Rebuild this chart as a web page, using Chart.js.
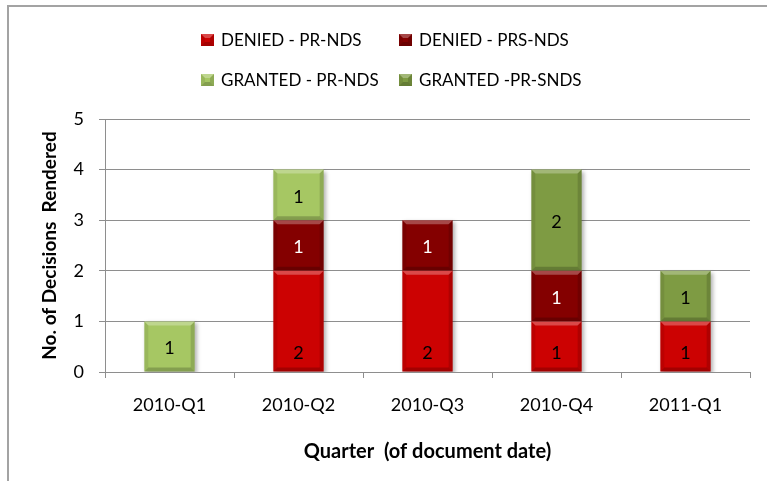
<!DOCTYPE html>
<html>
<head>
<meta charset="utf-8">
<script src="https://cdn.jsdelivr.net/npm/chart.js@4.4.1/dist/chart.umd.min.js"></script>
<style>
  html, body { margin: 0; padding: 0; background: #fff; }
  #wrap { width: 767px; height: 481px; }
</style>
</head>
<body>
<div id="wrap"><canvas id="decisions" width="767" height="481"></canvas></div>
<script>
// data
const quarters = ['2010-Q1', '2010-Q2', '2010-Q3', '2010-Q4', '2011-Q1'];
const deniedPrNds = [0, 2, 2, 1, 1];
const deniedPrsNds = [0, 1, 1, 1, 0];
const grantedPrNds = [1, 1, 0, 0, 0];
const grantedPrSnds = [0, 0, 0, 2, 1];
const seriesNames = ['DENIED - PR-NDS', 'DENIED - PRS-NDS', 'GRANTED - PR-NDS', 'GRANTED -PR-SNDS'];

const colors = ['#cc0202', '#840000', '#a6c763', '#7e9b43'];
const labelColors = ['#000', '#fff', '#000', '#000'];
const FONT = 'Lato';

// legend is 2x2 in the original, chart.js legend can't wrap like that so draw it here
const legendSpots = [[201, 40], [399, 40], [201, 80], [399, 80]];

function bevel(ctx, l, t, r, b) {
  const d = Math.min(4, (b - t) / 3);
  ctx.fillStyle = 'rgba(255,255,255,0.28)';
  ctx.beginPath();
  ctx.moveTo(l, t); ctx.lineTo(r, t); ctx.lineTo(r - d, t + d); ctx.lineTo(l + d, t + d);
  ctx.fill();
  ctx.fillStyle = 'rgba(0,0,0,0.08)';
  ctx.beginPath();
  ctx.moveTo(l, t); ctx.lineTo(l + d, t + d); ctx.lineTo(l + d, b - d); ctx.lineTo(l, b);
  ctx.fill();
  ctx.fillStyle = 'rgba(0,0,0,0.14)';
  ctx.beginPath();
  ctx.moveTo(r, t); ctx.lineTo(r - d, t + d); ctx.lineTo(r - d, b - d); ctx.lineTo(r, b);
  ctx.fill();
  ctx.fillStyle = 'rgba(0,0,0,0.2)';
  ctx.beginPath();
  ctx.moveTo(l, b); ctx.lineTo(l + d, b - d); ctx.lineTo(r - d, b - d); ctx.lineTo(r, b);
  ctx.fill();
}

const decoPlugin = {
  id: 'deco',
  beforeDraw(chart) {
    const ctx = chart.ctx;
    ctx.save();
    ctx.strokeStyle = '#a3a3a3';
    ctx.lineWidth = 2;
    ctx.strokeRect(8, 6, 800, 520);
    ctx.restore();
  },
  beforeDatasetsDraw(chart) {
    const ctx = chart.ctx;
    ctx.save();
    ctx.shadowColor = 'rgba(0,0,0,0.3)';
    ctx.shadowBlur = 4;
    ctx.shadowOffsetX = 2;
    ctx.shadowOffsetY = 2;
  },
  afterDatasetsDraw(chart) {
    const ctx = chart.ctx;
    ctx.restore();
    chart.data.datasets.forEach((ds, i) => {
      const meta = chart.getDatasetMeta(i);
      meta.data.forEach((bar, j) => {
        const v = ds.data[j];
        if (!v) return;
        const p = bar.getProps(['x', 'y', 'base', 'width'], true);
        const l = p.x - p.width / 2, r = p.x + p.width / 2;
        bevel(ctx, l, p.y, r, p.base);
        ctx.save();
        ctx.fillStyle = labelColors[i];
        ctx.font = '18px ' + FONT;
        ctx.textAlign = 'center';
        ctx.textBaseline = 'middle';
        const ty = i === 0 ? p.base - 18 : (p.y + p.base) / 2 + 2;
        ctx.fillText(String(v), p.x, ty);
        ctx.restore();
      });
    });
  },
  afterDraw(chart) {
    const ctx = chart.ctx;
    ctx.save();
    chart.data.datasets.forEach((ds, i) => {
      const [x, y] = legendSpots[i];
      ctx.fillStyle = ds.backgroundColor;
      ctx.fillRect(x, y - 6, 13, 12);
      bevel(ctx, x, y - 6, x + 13, y + 6);
      ctx.fillStyle = '#000';
      ctx.font = '17px ' + FONT;
      ctx.textBaseline = 'middle';
      ctx.textAlign = 'left';
      ctx.fillText(ds.label, x + 20, y + 1);
    });
    ctx.restore();
  }
};

const axisGray = '#8e8e8e';

new Chart(document.getElementById('decisions'), {
  type: 'bar',
  data: {
    labels: quarters,
    datasets: [
      { label: seriesNames[0], data: deniedPrNds, backgroundColor: colors[0] },
      { label: seriesNames[1], data: deniedPrsNds, backgroundColor: colors[1] },
      { label: seriesNames[2], data: grantedPrNds, backgroundColor: colors[2] },
      { label: seriesNames[3], data: grantedPrSnds, backgroundColor: colors[3] }
    ]
  },
  options: {
    responsive: false,
    animation: false,
    categoryPercentage: 1,
    barPercentage: 0.39,
    layout: { padding: { left: 0, right: 17, top: 119, bottom: 0 } },
    plugins: {
      legend: { display: false },
      tooltip: { enabled: false }
    },
    scales: {
      x: {
        stacked: true,
        grid: { offset: true, drawOnChartArea: false, tickLength: 6, color: axisGray },
        border: { color: axisGray },
        ticks: { color: '#000', font: { family: FONT, size: 18 }, padding: 16 },
        title: {
          display: true,
          text: 'Quarter  (of document date)',
          color: '#000',
          font: { family: FONT, size: 20, weight: 'bold' },
          padding: { top: 0, bottom: 17 }
        },
        afterFit: s => { s.height = 109; }
      },
      y: {
        stacked: true,
        min: 0,
        max: 5,
        ticks: { stepSize: 1, color: '#000', font: { family: FONT, size: 18 }, padding: 15 },
        grid: { color: axisGray, tickLength: 6 },
        border: { color: axisGray },
        title: {
          display: true,
          text: 'No. of Decisions  Rendered',
          color: '#000',
          font: { family: FONT, size: 19, weight: 'bold' },
          padding: { top: 38, bottom: 0 }
        },
        afterFit: s => { s.width = 105; }
      }
    }
  },
  plugins: [decoPlugin]
});
</script>
</body>
</html>
